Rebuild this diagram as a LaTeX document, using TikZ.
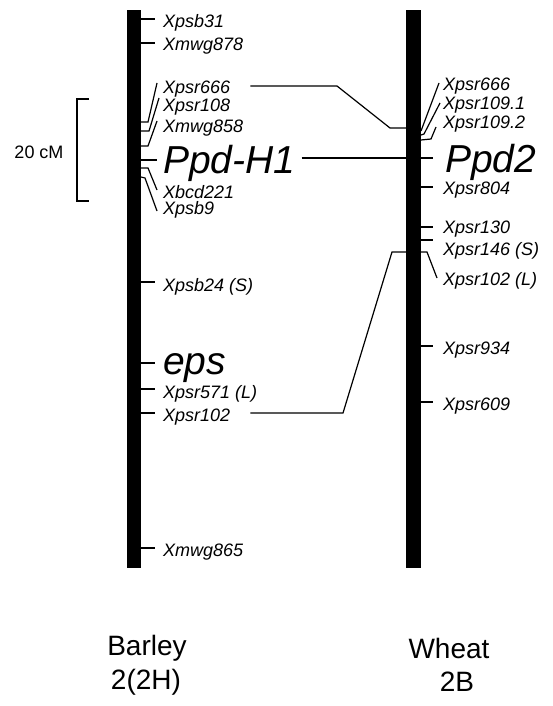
\documentclass[tikz,border=0pt]{standalone}
\usepackage{fontspec}
\setmainfont{Liberation Sans}
\usepackage{tikz}
\usetikzlibrary{positioning, calc}

\tikzset{
  chrom/.style={fill=black, inner sep=0pt, minimum width=14pt, minimum height=557pt},
  mk/.style={anchor=west, inner sep=0pt, font=\fontsize{18}{18}\selectfont\itshape},
  gene/.style={anchor=west, inner sep=0pt, font=\fontsize{39}{39}\selectfont\itshape},
  spec/.style={inner sep=0pt, font=\fontsize{28}{28}\selectfont},
  tick/.style={line width=1.2pt},
  link/.style={line width=1.2pt}
}

\begin{document}
\begin{tikzpicture}[x=1pt, y=-1pt]
  \useasboundingbox (0,0) rectangle (552,706);

  % chromosomes
  \node[chrom] (barley) at (134,289) {};
  \node[chrom, minimum width=15pt] (wheat) at (413.5,289) {};

  % scale bar
  \node[inner sep=0pt, font=\fontsize{18}{18}\selectfont] (cm) at (39,152) {20 cM};
  \coordinate (sctop) at (89,99);
  \coordinate (scbot) at (89,201);
  \draw[tick] (sctop) -- ++(-12,0) |- (scbot);

  % barley markers
  \node[mk] (bpsb31) at (163,23) {Xpsb31};
  \node[mk] (bmwg878) at (163,46) {Xmwg878};
  \node[mk] (bpsr666) at (163,89) {Xpsr666};
  \node[mk] (bpsr108) at (163,107) {Xpsr108};
  \node[mk] (bmwg858) at (163,128) {Xmwg858};
  \node[gene] (ppdh) at (163,163) {Ppd-H1};
  \node[mk] (bbcd221) at (163,192) {Xbcd221};
  \node[mk] (bpsb9) at (163,210) {Xpsb9};
  \node[mk] (bpsb24) at (163,287) {Xpsb24 (S)};
  \node[gene] (eps) at (163,368) {eps};
  \node[mk] (bpsr571) at (163,394) {Xpsr571 (L)};
  \node[mk] (bpsr102) at (163,417) {Xpsr102};
  \node[mk] (bmwg865) at (163,552) {Xmwg865};

  \draw[tick] ($(barley.east |- bpsb31.west)+(0,-4)$) -- ++(14,0);
  \draw[tick] ($(barley.east |- bmwg878.west)+(0,-3)$) -- ++(14,0);
  \draw[tick] ($(barley.east |- ppdh.west)+(0,-3)$) -- ++(16,0);
  \draw[tick] ($(barley.east |- bpsb24.west)+(0,-5)$) -- ++(14,0);
  \draw[tick] ($(barley.east |- eps.west)+(0,-5)$) -- ++(14,0);
  \draw[tick] ($(barley.east |- bpsr571.west)+(0,-5)$) -- ++(14,0);
  \draw[tick] ($(barley.east |- bpsr102.west)+(0,-4)$) -- ++(14,0);
  \draw[tick] ($(barley.east |- bmwg865.west)+(0,-4)$) -- ++(14,0);

  % barley cluster round Ppd-H1
  \coordinate (bx666) at (141,122);
  \coordinate (bx108) at (141,131);
  \coordinate (bx858) at (141,146);
  \coordinate (bxbcd) at (141,168);
  \coordinate (bxpsb9) at (141,177);
  \draw[link] (bx666) -- ++(7,0) -- ($(bpsr666.west)+(-6,-6)$);
  \draw[link] (bx108) -- ++(8,0) -- ($(bpsr108.west)+(-4,-9)$);
  \draw[link] (bx858) -- ++(7,0) -- ($(bmwg858.west)+(-6,-7)$);
  \draw[link] (bxbcd) -- ++(7,0) -- ($(bbcd221.west)+(-6,-2)$);
  \draw[link] (bxpsb9) -- ++(4,1) -- ($(bpsb9.west)+(-6,1)$);

  % wheat markers
  \node[mk] (wpsr666) at (443,86) {Xpsr666};
  \node[mk] (wpsr1091) at (443,105) {Xpsr109.1};
  \node[mk] (wpsr1092) at (443,124) {Xpsr109.2};
  \node[gene] (ppd2) at (445,162) {Ppd2};
  \node[mk] (wpsr804) at (443,190) {Xpsr804};
  \node[mk] (wpsr130) at (443,229) {Xpsr130};
  \node[mk] (wpsr146) at (443,251) {Xpsr146 (S)};
  \node[mk] (wpsr102) at (443,281) {Xpsr102 (L)};
  \node[mk] (wpsr934) at (443,350) {Xpsr934};
  \node[mk] (wpsr609) at (443,406) {Xpsr609};

  \draw[tick] ($(wheat.east |- ppd2.west)+(0,-4)$) -- ++(12,0);
  \draw[tick] ($(wheat.east |- wpsr804.west)+(0,-3)$) -- ++(12,0);
  \draw[tick] ($(wheat.east |- wpsr130.west)+(0,-2)$) -- ++(12,0);
  \draw[tick] ($(wheat.east |- wpsr146.west)+(0,-11)$) -- ++(12,0);
  \draw[tick] ($(wheat.east |- wpsr934.west)+(0,-4)$) -- ++(12,0);
  \draw[tick] ($(wheat.east |- wpsr609.west)+(0,-4)$) -- ++(12,0);

  % wheat cluster round Ppd2
  \coordinate (wx666) at (421,131);
  \coordinate (wx1091) at (421,135);
  \coordinate (wx1092) at (421,140);
  \coordinate (wx102) at (421,252);
  \draw[link] (wx666) -- ($(wpsr666.west)+(-4,-3)$);
  \draw[link] (wx1091) -- ++(3,-1) -- ($(wpsr1091.west)+(-3,-2)$);
  \draw[link] (wx1092) -- ++(10,-1) -- ($(wpsr1092.west)+(-7,3)$);
  \draw[link] (wx102) -- ++(6,0) -- ($(wpsr102.west)+(-6,-3)$);

  % homologous loci
  \coordinate (k666a) at (337,86);
  \coordinate (k666b) at (390,128);
  \coordinate (kppd) at (0,158);
  \coordinate (k102a) at (343,413);
  \coordinate (k102b) at (392,252);
  \draw[link] (k666a -| bpsr666.east) ++(20,0) -- (k666a) -- (k666b) -- (k666b -| wheat.west);
  \draw[link] (kppd -| ppdh.east) ++(6,0) -- (kppd -| wheat.west);
  \draw[link] (k102a -| bpsr102.east) ++(20,0) -- (k102a) -- (k102b) -- (k102b -| wheat.west);

  % species
  \node[spec] (barleyname) at (147,648) {Barley};
  \node[spec] (barleychr) at (146,682) {2(2H)};
  \node[spec] (wheatname) at (449,648) {Wheat};
  \node[spec] (wheatchr) at (457,682) {2B};
\end{tikzpicture}
\end{document}
